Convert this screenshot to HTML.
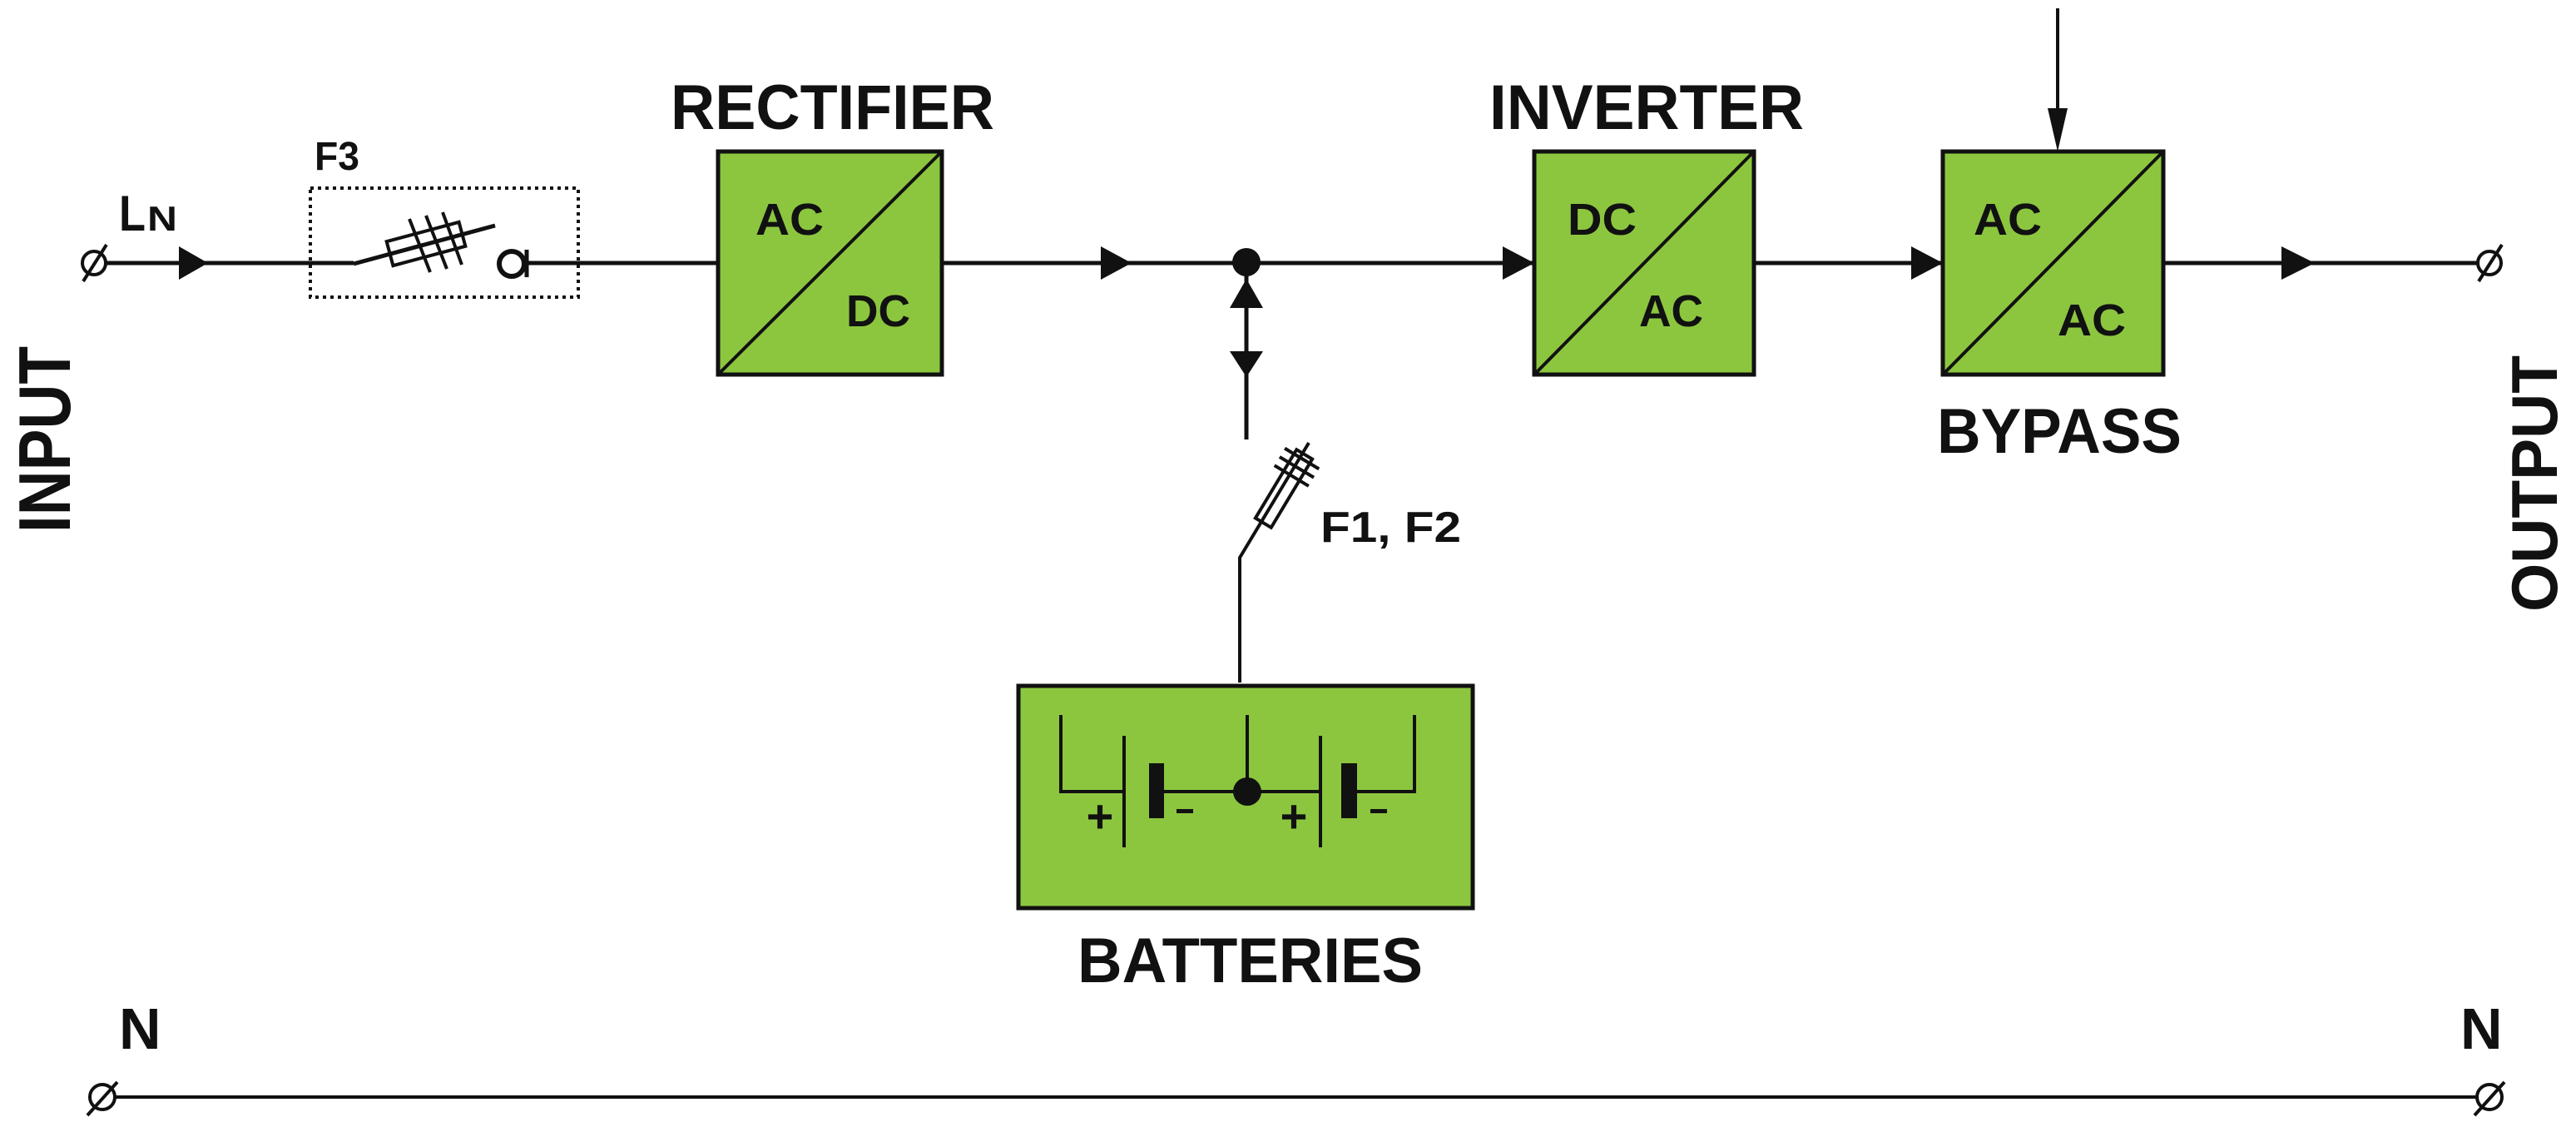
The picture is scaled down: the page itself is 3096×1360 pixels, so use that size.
<!DOCTYPE html>
<html><head><meta charset="utf-8"><style>
html,body{margin:0;padding:0;background:#fff;}
svg{display:block;}
text{font-family:"Liberation Sans",Arial,sans-serif;font-weight:bold;fill:#111;}
</style></head><body>
<svg width="3096" height="1360" viewBox="0 0 3096 1360" xmlns="http://www.w3.org/2000/svg">
<g stroke="#111" fill="none" stroke-width="5">
  <line x1="128" y1="316" x2="425" y2="316"/>
  <polyline points="425,317 595,271"/>
  <line x1="633" y1="316" x2="863" y2="316"/>
  <line x1="1132" y1="316" x2="1844" y2="316"/>
  <line x1="2106" y1="316" x2="2335" y2="316"/>
  <line x1="2600" y1="316" x2="2978" y2="316"/>
  <line x1="138" y1="1318" x2="2978" y2="1318" stroke-width="4"/>
  <circle cx="113" cy="316" r="14" stroke-width="4"/>
  <line x1="100" y1="338" x2="128" y2="294" stroke-width="4"/>
  <circle cx="2992" cy="316" r="14" stroke-width="4"/>
  <line x1="2979" y1="338" x2="3007" y2="294" stroke-width="4"/>
  <circle cx="123" cy="1318" r="15" stroke-width="4"/>
  <line x1="105" y1="1340" x2="141" y2="1300" stroke-width="4"/>
  <circle cx="2992" cy="1318" r="15" stroke-width="4"/>
  <line x1="2974" y1="1340" x2="3010" y2="1300" stroke-width="4"/>
  <rect x="373" y="226" width="322" height="131" stroke-width="4" stroke-dasharray="4,5"/>
  <g transform="translate(512,293) rotate(-15)">
    <rect x="-45" y="-15" width="90" height="30" stroke-width="4"/>
  </g>
  <line x1="492" y1="263" x2="517" y2="327" stroke-width="4"/>
  <line x1="512" y1="259" x2="537" y2="323" stroke-width="4"/>
  <line x1="532" y1="255" x2="555" y2="318" stroke-width="4"/>
  <circle cx="615" cy="317" r="15" stroke-width="6"/>
  <line x1="633" y1="300" x2="633" y2="333" stroke-width="5"/>
  <line x1="1498" y1="330" x2="1498" y2="528"/>
  <polyline points="1490,820 1490,670 1573,532" stroke-width="4"/>
  <g transform="translate(1543,587) rotate(-59)">
    <rect x="-48" y="-11" width="96" height="22" stroke-width="4"/>
    <line x1="18" y1="-24" x2="18" y2="24" stroke-width="4"/>
    <line x1="30" y1="-24" x2="30" y2="24" stroke-width="4"/>
    <line x1="42" y1="-24" x2="42" y2="24" stroke-width="4"/>
  </g>
  <line x1="2473" y1="10" x2="2473" y2="140" stroke-width="4"/>
</g>
<g fill="#111">
  <circle cx="1498" cy="315" r="17"/>
  <polygon points="1478,370 1518,370 1498,335"/>
  <polygon points="1478,422 1518,422 1498,453"/>
  <polygon points="215,296 215,336 250,316"/>
  <polygon points="1323,296 1323,336 1360,316"/>
  <polygon points="1806,296 1806,336 1844,316"/>
  <polygon points="2297,296 2297,336 2335,316"/>
  <polygon points="2742,296 2742,336 2782,316"/>
  <polygon points="2461,130 2485,130 2473,182"/>
</g>
<g stroke="#111" stroke-width="5" fill="#8cc63f">
  <rect x="863" y="182" width="269" height="268"/>
  <rect x="1844" y="182" width="264" height="268"/>
  <rect x="2335" y="182" width="265" height="268"/>
  <rect x="1224" y="824" width="546" height="267"/>
</g>
<g stroke="#111" stroke-width="4">
  <line x1="865" y1="448" x2="1130" y2="184"/>
  <line x1="1846" y1="448" x2="2106" y2="184"/>
  <line x1="2337" y1="448" x2="2598" y2="184"/>
</g>
<g stroke="#111" stroke-width="4" fill="none">
  <polyline points="1275,859 1275,951 1349,951"/>
  <line x1="1351" y1="884" x2="1351" y2="1018"/>
  <line x1="1399" y1="951" x2="1587" y2="951"/>
  <line x1="1499" y1="859" x2="1499" y2="951"/>
  <line x1="1587" y1="884" x2="1587" y2="1018"/>
  <polyline points="1631,951 1700,951 1700,859"/>
</g>
<g fill="#111">
  <rect x="1381" y="917" width="18" height="66"/>
  <rect x="1612" y="917" width="19" height="66"/>
  <circle cx="1499" cy="951" r="17"/>
  <rect x="1414" y="972" width="20" height="5"/>
  <rect x="1647" y="972" width="20" height="5"/>
</g>
<g style="font-size:56px">
  <text x="1322" y="1000" text-anchor="middle">+</text>
  <text x="1555" y="1000" text-anchor="middle">+</text>
</g>
<g style="font-size:76px">
  <text x="806" y="155" textLength="389" lengthAdjust="spacingAndGlyphs">RECTIFIER</text>
  <text x="1790" y="155" textLength="378" lengthAdjust="spacingAndGlyphs">INVERTER</text>
  <text x="2328" y="544" textLength="294" lengthAdjust="spacingAndGlyphs">BYPASS</text>
  <text x="1295" y="1180" textLength="415" lengthAdjust="spacingAndGlyphs">BATTERIES</text>
</g>
<g style="font-size:54px">
  <text x="908" y="282" textLength="82" lengthAdjust="spacingAndGlyphs">AC</text>
  <text x="1017" y="392" textLength="77" lengthAdjust="spacingAndGlyphs">DC</text>
  <text x="1884" y="282" textLength="83" lengthAdjust="spacingAndGlyphs">DC</text>
  <text x="1970" y="392" textLength="77" lengthAdjust="spacingAndGlyphs">AC</text>
  <text x="2372" y="282" textLength="82" lengthAdjust="spacingAndGlyphs">AC</text>
  <text x="2473" y="403" textLength="82" lengthAdjust="spacingAndGlyphs">AC</text>
</g>
<text x="1587" y="651" style="font-size:52px" textLength="169" lengthAdjust="spacingAndGlyphs">F1, F2</text>
<text x="378" y="204" style="font-size:48px" textLength="54" lengthAdjust="spacingAndGlyphs">F3</text>
<text x="143" y="277" style="font-size:60px" textLength="32" lengthAdjust="spacingAndGlyphs">L</text>
<text x="177" y="277" style="font-size:42px" textLength="36" lengthAdjust="spacingAndGlyphs">N</text>
<text x="143" y="1260" style="font-size:70px">N</text>
<text x="2957" y="1260" style="font-size:70px">N</text>
<text transform="translate(84,640) rotate(-90)" style="font-size:88px" textLength="224" lengthAdjust="spacingAndGlyphs">INPUT</text>
<text transform="translate(3073,735) rotate(-90)" style="font-size:78px" textLength="308" lengthAdjust="spacingAndGlyphs">OUTPUT</text>
</svg>
</body></html>
